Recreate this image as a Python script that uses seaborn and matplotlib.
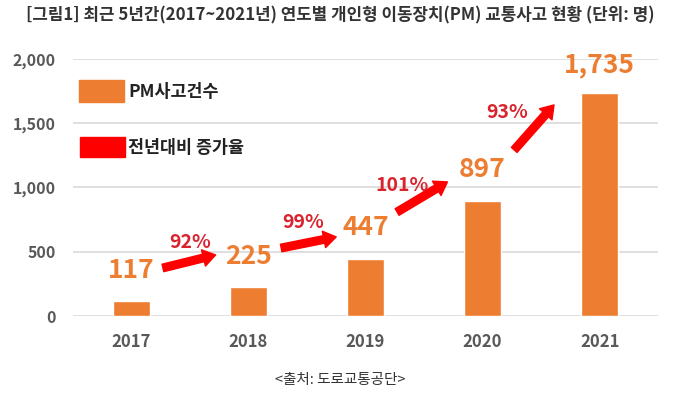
import matplotlib
matplotlib.use("Agg")
import matplotlib.pyplot as plt
import matplotlib.patches as mpatches
import seaborn as sns
import pandas as pd

years = ["2017", "2018", "2019", "2020", "2021"]
accidents = [117, 225, 447, 897, 1735]
growth = ["92%", "99%", "101%", "93%"]
yticks = [0, 500, 1000, 1500, 2000]

sns.set_theme(style="white")
plt.rcParams['font.family'] = ['Noto Sans CJK KR', 'DejaVu Sans']

ORANGE = "#ED7D31"
RED = "#FF0000"
PCT_RED = "#D9232E"
GRAY = "#595959"

df = pd.DataFrame({"year": years, "count": accidents})

fig = plt.figure(figsize=(6.8, 3.98), dpi=100)
ax = fig.add_axes([0.107, 0.206, 0.861, 0.646])

sns.barplot(data=df, x="year", y="count", color=ORANGE, width=0.32,
            saturation=1, ax=ax, zorder=3)

ax.set_ylim(0, 2000)
ax.set_xlim(-0.5, 4.5)
ax.set_yticks(yticks)
ax.set_yticklabels([f"{v:,}" for v in yticks])
ax.yaxis.grid(True, color="#D9D9D9", linewidth=1.2, zorder=0)
ax.set_axisbelow(True)
for s in ax.spines.values():
    s.set_visible(False)
ax.set_xlabel("")
ax.set_ylabel("")
ax.tick_params(axis='y', length=0, pad=12, labelsize=11.5, labelcolor=GRAY)
ax.tick_params(axis='x', length=0, pad=12, labelsize=12, labelcolor=GRAY)
for t in ax.get_yticklabels() + ax.get_xticklabels():
    t.set_fontweight('bold')

# value labels
label_offsets = [240, 235, 245, 240, 218]
for i, v in enumerate(accidents):
    ax.text(i, v + label_offsets[i], f"{v:,}", ha='center', va='center',
            fontsize=19, fontweight='bold', color=ORANGE, zorder=5)

# growth arrows
arrows = [((0.27, 374), (0.72, 475)),
          ((1.28, 529), (1.75, 615)),
          ((2.27, 809), (2.70, 1043)),
          ((3.27, 1292), (3.61, 1642))]
pct_pos = [(0.505, 568), (1.47, 731), (2.31, 1019), (3.21, 1580)]
for (tail, head), txt, pos in zip(arrows, growth, pct_pos):
    ax.annotate('', xy=head, xytext=tail,
                arrowprops=dict(arrowstyle='simple,head_width=1.2,head_length=0.9,tail_width=0.55',
                                color=RED, mutation_scale=10, shrinkA=0, shrinkB=0),
                zorder=6)
    ax.text(pos[0], pos[1], txt, ha='center', va='center', fontsize=14,
            fontweight='bold', color=PCT_RED, zorder=7)

# legend
fig.patches.append(mpatches.Rectangle((79/680, 1-102/398), 45/680, 22/398,
                                      transform=fig.transFigure, color=ORANGE))
fig.patches.append(mpatches.Rectangle((80/680, 1-157/398), 45/680, 20/398,
                                      transform=fig.transFigure, color=RED))
fig.text(128/680, 1-92/398, "PM사고건수", ha='left', va='center', fontsize=12.5,
         fontweight='bold', color="#222222")
fig.text(128/680, 1-148/398, "전년대비 증가율", ha='left', va='center', fontsize=12.5,
         fontweight='bold', color="#222222")

fig.text(0.5, 1-15/398, "[그림1] 최근 5년간(2017~2021년) 연도별 개인형 이동장치(PM) 교통사고 현황 (단위: 명)",
         ha='center', va='center', fontsize=12.1, fontweight='bold', color="#333333")
fig.text(0.5, 1-380/398, "<출처: 도로교통공단>", ha='center', va='center', fontsize=10.5,
         color="#333333")

fig.savefig("out.png", dpi=100)
